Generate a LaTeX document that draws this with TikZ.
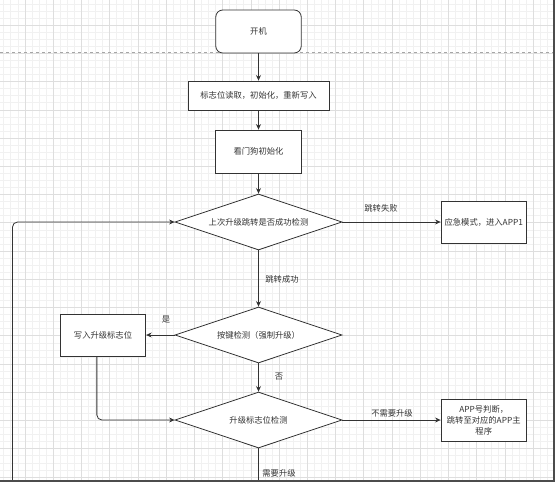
\documentclass[tikz,border=0pt]{standalone}
\usepackage{fontspec}
\newfontfamily\cjk{Noto Sans CJK SC}
\usetikzlibrary{shapes.geometric,arrows.meta}
\definecolor{gridmaj}{HTML}{DEDEDE}
\definecolor{gridmin}{HTML}{F1F1F1}
\definecolor{ink}{HTML}{333333}

\begin{document}
\begin{tikzpicture}[x=1pt,y=-1pt,
    every node/.style={font=\cjk\fontsize{8.3}{11}\selectfont,text=ink},
    proc/.style={draw=ink,line width=0.8pt,fill=white,minimum width=85.5pt,minimum height=42pt,inner sep=1pt,align=center},
    startbox/.style={proc,rounded corners=7pt,minimum height=43pt},
    decide/.style={diamond,draw=ink,line width=0.8pt,fill=white,aspect=3,minimum width=167pt,minimum height=56pt,inner sep=0pt},
    conn/.style={draw=ink,line width=0.8pt,-{Stealth[length=5.5pt,width=5pt]}}]
    \useasboundingbox (0,0) rectangle (559,484);
    % background grid
    \begin{scope}
      \clip (0,0) rectangle (553,480);
      \foreach \k in {0,...,79} {
        \draw[gridmin] ({-3.44+7.06*\k},0) -- ++(0,480);
        \draw[gridmin] (0,{-3.24+7.06*\k}) -- ++(553,0);
      }
      \foreach \k in {0,...,20} {
        \draw[gridmaj] ({24.8+28.24*\k},0) -- ++(0,480);
        \draw[gridmaj] (0,{25+28.24*\k}) -- ++(553,0);
      }
    \end{scope}
    \draw[black!35,dashed,line width=0.7pt] (0,52.5) -- (553,52.5);

    \node[startbox] (start) at (258.5,31.5) {开机};
    \node[proc,minimum width=141pt,minimum height=29pt] (flag) at (258.5,95.5) {标志位读取，初始化，重新写入};
    \node[proc,minimum height=43pt] (wdog) at (258.5,151.5) {看门狗初始化};
    \node[decide] (jmpchk) at (258.5,222) {上次升级跳转是否成功检测};
    \node[proc] (emerg) at (483.75,222) {应急模式，进入APP1};
    \node[decide] (keychk) at (258.5,335) {按键检测（强制升级）};
    \node[proc] (wflag) at (103,335) {写入升级标志位};
    \node[decide] (updchk) at (258.5,420) {升级标志位检测};
    \node[proc] (app) at (483.75,420) {APP号判断，\\跳转至对应的APP主\\程序};
    \coordinate (bot) at (258.5,480);
    \coordinate (loopbot) at (12.5,480);

    \draw[conn] (start) -- (flag);
    \draw[conn] (flag) -- (wdog);
    \draw[conn] (wdog) -- (jmpchk);
    \draw[conn] (jmpchk) -- (emerg);
    \draw[conn] (jmpchk) -- (keychk);
    \draw[conn] (keychk) -- (wflag);
    \draw[conn] (keychk) -- (updchk);
    \draw[conn] (updchk) -- (app);
    \draw[conn,rounded corners=5pt] (wflag.254) |- (updchk.west);
    \draw[conn,-] (updchk) -- (bot);
    \draw[conn,rounded corners=5pt] (loopbot) |- (jmpchk.west);

    \node (lfail) at (381,208) {跳转失败};
    \node (lok) at (282,279) {跳转成功};
    \node (lyes) at (166,320) {是};
    \node (lno) at (279,377) {否};
    \node (lnoup) at (392,413) {不需要升级};
    \node (lup) at (279,473) {需要升级};

    % window frame
    \draw[black!70,line width=1.6pt] (554,0) -- (554,481) -- (0,481);
  \end{tikzpicture}
\end{document}
